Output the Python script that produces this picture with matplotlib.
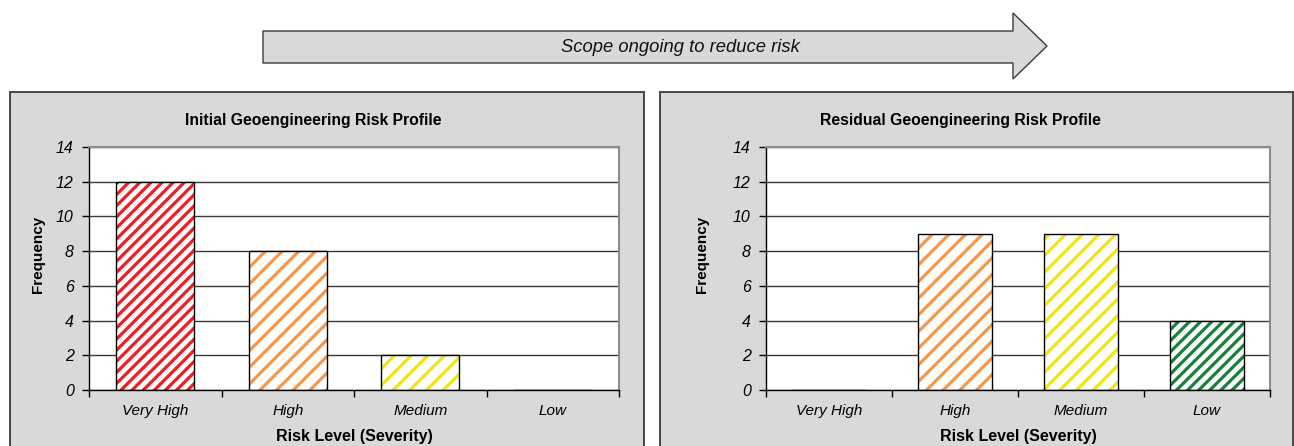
import matplotlib
matplotlib.use("Agg")
import matplotlib.pyplot as plt
from matplotlib.patches import Rectangle, Polygon
from matplotlib.ticker import FixedLocator

plt.rcParams['font.family'] = ['Liberation Sans', 'DejaVu Sans']
plt.rcParams['hatch.linewidth'] = 2.3

# Data
categories = ['Very High', 'High', 'Medium', 'Low']
initial_counts = [12, 8, 2, 0]
residual_counts = [0, 9, 9, 4]
level_colors = ['#EE1C25', '#F79646', '#F0E614', '#17813A']
level_hatches = ['///', '//', '//', '///']
y_ticks = [0, 2, 4, 6, 8, 10, 12, 14]

W, H = 1294, 446
DPI = 100
fig = plt.figure(figsize=(W / DPI, H / DPI), dpi=DPI)
fig.patch.set_facecolor('white')


def fx(px):
    return px / W


def fy(py):
    return 1 - py / H


# Grey panel frames behind each chart
for x0, x1 in [(10, 644), (660, 1293)]:
    fig.patches.append(Rectangle((fx(x0), fy(470)), fx(x1) - fx(x0), fy(92) - fy(470),
                                 transform=fig.transFigure, facecolor='#D9D9D9',
                                 edgecolor='#3A3A3A', linewidth=1.3, zorder=-2))

# Block arrow across the top
arrow_pts = [(263, 31), (1013, 31), (1013, 13), (1047, 46), (1013, 79), (1013, 63), (263, 63)]
fig.patches.append(Polygon([(fx(x), fy(y)) for x, y in arrow_pts], closed=True,
                           transform=fig.transFigure, facecolor='#D9D9D9',
                           edgecolor='#3A3A3A', linewidth=1.0, zorder=-1))
fig.text(fx(680), fy(47), 'Scope ongoing to reduce risk', ha='center', va='center',
         fontsize=13.2, style='italic', color='#111111')


def draw_panel(rect, counts, title, title_x, ylab_x):
    ax = fig.add_axes(rect)
    ax.set_zorder(1)
    ax.set_facecolor('white')
    x = range(len(categories))
    fills = ax.bar(x, counts, width=0.585, facecolor='white', edgecolor=level_colors,
                   linewidth=0, zorder=2)
    for patch, h in zip(fills, level_hatches):
        patch.set_hatch(h)
    ax.bar(x, counts, width=0.585, fill=False, edgecolor='black', linewidth=1.0, zorder=3)
    ax.set_xlim(-0.5, len(categories) - 0.5)
    ax.set_ylim(0, 14)
    ax.set_yticks(y_ticks)
    ax.set_yticklabels([str(v) for v in y_ticks], fontsize=11.5, style='italic')
    ax.yaxis.grid(True, color='#3A3A3A', linewidth=1.0, zorder=1)
    ax.set_axisbelow(True)
    ax.set_xticks(list(x))
    ax.set_xticklabels(categories, fontsize=11, style='italic')
    ax.xaxis.set_minor_locator(FixedLocator([i - 0.5 for i in range(len(categories) + 1)]))
    ax.tick_params(axis='x', which='major', length=0, pad=10)
    ax.tick_params(axis='x', which='minor', length=5, width=1, direction='out')
    ax.tick_params(axis='y', length=5, width=1, direction='out', pad=6)
    for side in ['top', 'right']:
        ax.spines[side].set_color('#8C8C8C')
        ax.spines[side].set_linewidth(1.5)
    for side in ['left', 'bottom']:
        ax.spines[side].set_color('black')
        ax.spines[side].set_linewidth(1.0)
    ax.set_xlabel('Risk Level (Severity)', fontsize=11.5, fontweight='bold', labelpad=8)
    fig.text(fx(title_x), fy(120), title, ha='center', va='center',
             fontsize=11.3, fontweight='bold')
    fig.text(fx(ylab_x), fy(254), 'Frequency', ha='center', va='center',
             rotation=90, fontsize=11, fontweight='bold')
    return ax


draw_panel([fx(89), fy(390), fx(619) - fx(89), fy(147) - fy(390)], initial_counts,
           'Initial Geoengineering Risk Profile', 313, 38)
draw_panel([fx(766), fy(390), fx(1270) - fx(766), fy(147) - fy(390)], residual_counts,
           'Residual Geoengineering Risk Profile', 960, 702)

fig.savefig('out.png', dpi=DPI, facecolor='white')
